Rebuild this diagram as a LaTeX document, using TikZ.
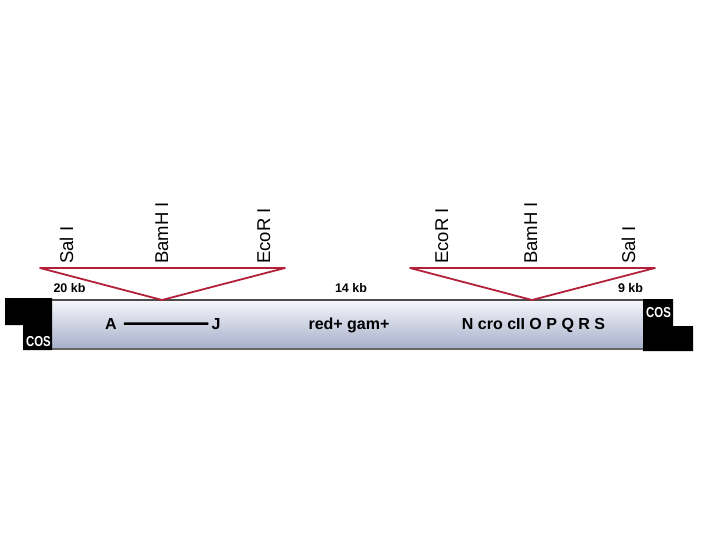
\documentclass[tikz,border=0pt]{standalone}
\usepackage{fontspec}
\setmainfont{Liberation Sans}
\definecolor{cutred}{RGB}{178,32,58}
\definecolor{armtop}{RGB}{246,247,251}
\definecolor{armbot}{RGB}{166,174,202}
\begin{document}
\begin{tikzpicture}[
    x=1pt, y=-1pt,
    site/.style={rotate=90, anchor=base west, inner sep=0pt, font=\fontsize{18.5}{20}\selectfont},
    gene/.style={anchor=base, inner sep=0pt, font=\fontsize{16}{18}\selectfont\bfseries},
    kb/.style={anchor=base, inner sep=0pt, font=\fontsize{12.5}{14}\selectfont\bfseries},
    coslabel/.style={anchor=base, inner sep=0pt, text=white, font=\fontsize{12}{14}\selectfont\bfseries},
    cut/.style={draw=cutred, line width=1.8pt, line join=round},
    edge/.style={draw=black!70, line width=1.8pt},
  ]
  \useasboundingbox (0,0) rectangle (720,540);

  % lambda arms: shaded bar between the two cos ends
  \shade[top color=armtop, bottom color=armbot] (52,300) rectangle (643,349);
  \draw[edge] (52,300) -- (643,300);
  \draw[edge, draw=black!60] (52,349) -- (643,349);

  % cos ends
  \fill (5,298) -- (52,298) -- (52,350) -- (23,350) -- (23,325) -- (5,325) -- cycle;
  \fill (643,299) -- (673,299) -- (673,326) -- (693,326) -- (693,351) -- (643,351) -- cycle;
  \node[coslabel] (cosL) at (38.5,346) {\scalebox{0.95}[1.2]{COS}};
  \node[coslabel] (cosR) at (658.5,317) {\scalebox{0.95}[1.2]{COS}};

  % cloning sites opened up into the arms
  \draw[cut] (40,268) -- (285,268) -- (162,300) -- cycle;
  \draw[cut] (410,268) -- (655,268) -- (532,300) -- cycle;

  \node[site] (salL) at (73,264) {Sal I};
  \node[site] (bamL) at (168,264) {BamH I};
  \node[site] (ecoL) at (270,264) {EcoR I};
  \node[site] (ecoR) at (448,264) {EcoR I};
  \node[site] (bamR) at (537,264) {BamH I};
  \node[site] (salR) at (635,264) {Sal I};

  % arm lengths
  \node[kb] (kbL) at (69.5,292) {20 kb};
  \node[kb] (kbM) at (351,292) {14 kb};
  \node[kb] (kbR) at (630.5,292) {9 kb};

  % genes
  \node[gene] (geneA) at (111,329) {A};
  \node[gene] (geneJ) at (216,329) {J};
  \draw[line width=2.5pt, shorten <=7pt, shorten >=3pt] (geneA) -- (geneJ);
  \node[gene] (redgam) at (349,329) {red+ gam+};
  \node[gene] (late) at (533.5,329) {N cro cII O P Q R S};
\end{tikzpicture}
\end{document}
